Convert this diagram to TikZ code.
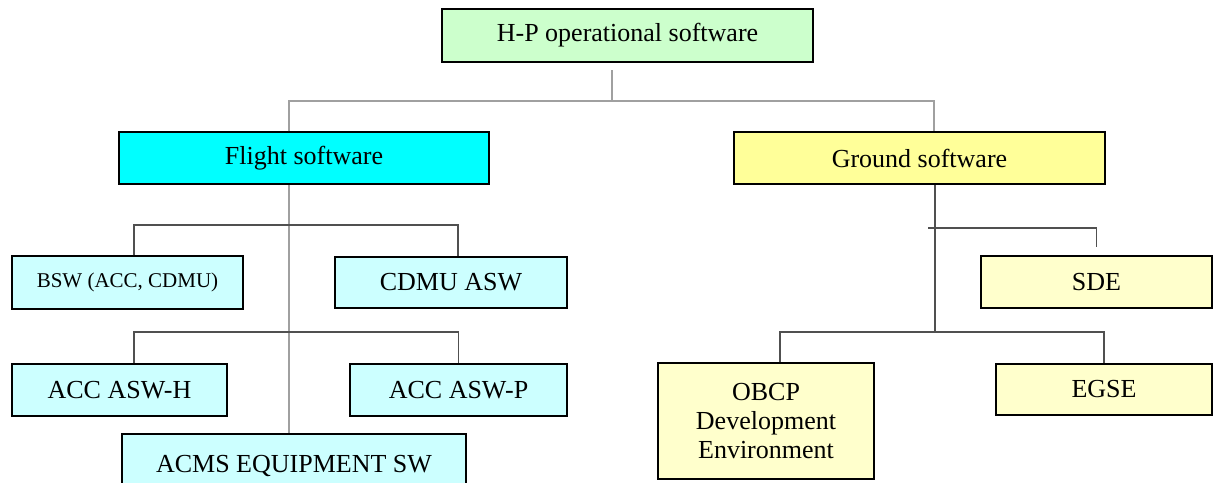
\documentclass[tikz,border=0pt]{standalone}
\usepackage{fontspec}
\setmainfont{Liberation Serif}
\definecolor{hpgreen}{HTML}{CCFFCC}
\definecolor{flcyan}{HTML}{00FFFF}
\definecolor{gryellow}{HTML}{FFFF99}
\definecolor{palecyan}{HTML}{CCFFFF}
\definecolor{paleyellow}{HTML}{FFFFCC}
\definecolor{linegray}{HTML}{A0A0A0}
\definecolor{linedark}{HTML}{505050}
\tikzset{
  box/.style={draw=black, line width=1.5pt, inner sep=0pt, align=center,
              font=\fontsize{26}{29}\selectfont},
  softline/.style={draw=linegray, line width=2pt},
  hardline/.style={draw=linedark, line width=1.3pt},
}
\begin{document}
\begin{tikzpicture}[x=1pt, y=-1pt]
\useasboundingbox (0,0) rectangle (1213,482);
\clip (0,0) rectangle (1213,482);
\fill[white] (0,0) rectangle (1213,482);

% top level and the two branches
\node[box, fill=hpgreen, minimum width=371pt, minimum height=53pt] (hp) at (627.5,35.5) {H-P operational software};
\node[box, fill=flcyan, minimum width=370pt, minimum height=52pt] (flight) at (304,158) {Flight software};
\node[box, fill=gryellow, minimum width=371pt, minimum height=52pt] (ground) at (919.5,158) {Ground software};

% flight software items
\node[box, fill=palecyan, minimum width=231pt, minimum height=53pt, font=\fontsize{21}{24}\selectfont] (bsw) at (127.5,282.5) {BSW (ACC, CDMU)};
\node[box, fill=palecyan, minimum width=232pt, minimum height=51pt] (cdmu) at (451,282.5) {CDMU ASW};
\node[box, fill=palecyan, minimum width=215pt, minimum height=52pt] (acch) at (119.5,390) {ACC ASW-H};
\node[box, fill=palecyan, minimum width=217pt, minimum height=52pt] (accp) at (458.5,390) {ACC ASW-P};
\node[box, fill=palecyan, minimum width=344pt, minimum height=66pt, text depth=0pt] (acms) at (294,467) {\raisebox{7pt}{ACMS EQUIPMENT SW}};

% ground software items
\node[box, fill=paleyellow, minimum width=231pt, minimum height=52pt] (sde) at (1096.5,282) {SDE};
\node[box, fill=paleyellow, minimum width=216pt, minimum height=116pt] (obcp) at (766,421) {OBCP\\Development\\Environment};
\node[box, fill=paleyellow, minimum width=216pt, minimum height=51pt] (egse) at (1104,389.5) {EGSE};

% junction points of the connector buses
\coordinate (hpdrop) at (612,70);
\coordinate (topbus) at (612,101);
\coordinate (fbusA) at (289,225);
\coordinate (fbusB) at (289,332);
\coordinate (gbusA) at (928,228);
\coordinate (gbusB) at (935,332);

% connectors
\draw[softline] (hpdrop) -- (topbus);
\draw[softline] ([xshift=-15pt]flight.north) |- (topbus) -| ([xshift=14.5pt]ground.north);
\draw[softline] ([xshift=-15pt]flight.south) -- ([xshift=-5pt]acms.north);
\draw[hardline] ([xshift=6.5pt]bsw.north) |- (fbusA) -| ([xshift=7pt]cdmu.north);
\draw[hardline] ([xshift=14.5pt]acch.north) |- (fbusB) -| (accp.north);
\draw[hardline] ([xshift=15.5pt]ground.south) -- (gbusB);
\draw[hardline] (gbusA) -| ([yshift=8pt]sde.north);
\draw[hardline] ([xshift=14pt]obcp.north) |- (gbusB) -| (egse.north);
\end{tikzpicture}
\end{document}
